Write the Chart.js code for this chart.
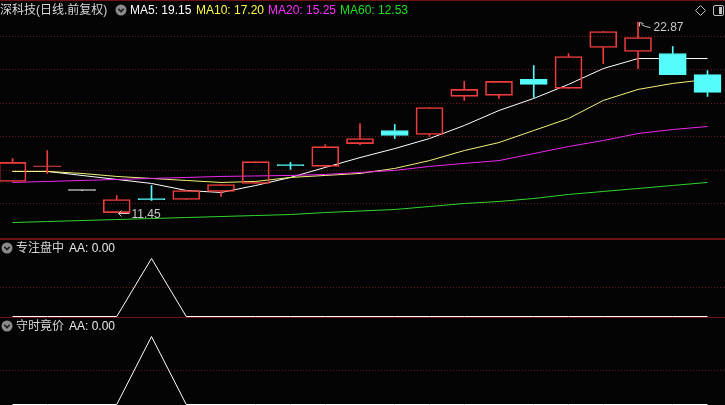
<!DOCTYPE html>
<html><head><meta charset="utf-8">
<script src="https://cdn.jsdelivr.net/npm/chart.js@4.4.0/dist/chart.umd.min.js"></script>
<style>
html,body{margin:0;padding:0;background:#040404;width:725px;height:405px;overflow:hidden;}
.pane{position:absolute;left:0;width:725px;}
canvas{display:block;}
.hdr{position:absolute;font:12px "Liberation Sans","Noto Sans CJK SC",sans-serif;white-space:nowrap;line-height:14px;}
.rule{position:absolute;left:0;width:725px;background:#6e1212;}
svg{position:absolute;}
</style></head><body>
<div class="pane" style="top:0;height:239px"><canvas id="main" width="725" height="239"></canvas></div>
<div class="pane" style="top:239px;height:78px"><canvas id="sub1" width="725" height="78"></canvas></div>
<div class="pane" style="top:317px;height:88px"><canvas id="sub2" width="725" height="88"></canvas></div>

<div class="rule" style="top:0;height:1px"></div>
<div class="rule" style="top:238px;height:2px"></div>
<div class="rule" style="top:317px;height:1px"></div>

<div id="headers"></div>

<script>
// ---------------- data ----------------
const dayIdx = [0,1,2,3,4,5,6,7,8,9,10,11,12,13,14,15,16,17,18,19,20];
const open  = [13.32,14.20,12.78,11.45,12.25,12.24,12.72,13.20,14.29,14.22,15.59,16.37,16.13,18.41,18.47,19.43,18.89,21.34,21.10,20.98,19.72];
const high  = [14.69,15.17,12.78,12.48,13.08,12.78,13.14,14.51,14.46,15.53,16.79,16.73,17.75,19.31,19.31,20.26,20.98,22.30,22.87,21.40,19.96];
const low   = [13.32,13.80,12.78,11.45,12.18,12.24,12.42,13.20,14.04,14.22,15.53,15.89,16.01,18.17,18.29,18.35,18.89,20.38,20.08,19.72,18.41];
const close = [14.46,14.22,12.78,12.24,12.23,12.78,13.14,14.51,14.27,15.41,15.89,16.07,17.75,18.83,19.31,19.13,20.80,22.30,21.94,19.72,18.65];

const ma5  = [13.92,13.92,13.68,13.44,13.20,12.78,12.66,13.08,13.56,14.16,14.75,15.29,15.89,16.67,17.57,18.29,19.13,20.08,20.68,20.68,20.68];
const ma10 = [13.92,13.92,13.80,13.62,13.50,13.38,13.26,13.32,13.56,13.68,13.80,14.10,14.57,15.17,15.65,16.37,17.09,18.17,18.83,19.19,19.43];
const ma20 = [13.26,13.32,13.38,13.44,13.50,13.56,13.62,13.65,13.68,13.74,13.86,13.98,14.22,14.40,14.57,14.99,15.41,15.77,16.19,16.43,16.61];
const ma60 = [10.86,10.92,10.98,11.04,11.10,11.16,11.22,11.28,11.34,11.46,11.55,11.64,11.82,12.00,12.12,12.30,12.54,12.72,12.90,13.08,13.26];

const aaFocus = [0,0,0,0,1,0,0,0,0,0,0,0,0,0,0,0,0,0,0,0,0];   // 专注盘中
const aaAuction = [0,0,0,0,1,0,0,0,0,0,0,0,0,0,0,0,0,0,0,0,0]; // 守时竟价

const priceGrid = [12,14,16,18,20,22];
const subGrid = [0.5];

const title = '深科技(日线.前复权)';
const maNames = ['MA5','MA10','MA20','MA60'];
const maLast = ['19.15','17.20','15.25','12.53'];
const subTitles = ['专注盘中','守时竟价'];
const subValues = ['0.00','0.00'];

// ---------------- styles ----------------
const RED = '#f03c3c', CYAN = '#55fcfc', WHITE = '#ffffff';
const MA_COLORS = ['#ffffff','#f2f27a','#ee28ee','#2ed62e'];
const MA_TEXT = ['#ffffff','#ffff40','#ff30ff','#20e020'];
const GRID = '#6a1818';

function candleColor(i){
  if (close[i] > open[i]) return RED;
  if (close[i] < open[i]) return CYAN;
  return WHITE;
}

// x layout: first candle centre at 12.5px, step 34.75px over a 725px wide area
const STEP = 34.75;
const X_MIN = -12.5/STEP, X_MAX = X_MIN + 725/STEP;

const xScale = {type:'linear', display:false, offset:false, min:X_MIN, max:X_MAX, grid:{offset:false}};
function yScale(min, max, grid){
  return {
    min, max, display:true,
    afterBuildTicks: ax => { ax.ticks = grid.map(v => ({value:v})); },
    ticks:{display:false},
    grid:{color:GRID, drawTicks:false, lineWidth:1},
    border:{display:false, dash:[1,2]}
  };
}

const extremes = {
  id:'extremes',
  afterDatasetsDraw(chart){
    const {ctx, scales:{x, y}} = chart;
    const hi = Math.max(...high), iHi = high.indexOf(hi);
    const lo = Math.min(...low), iLo = low.indexOf(lo);
    ctx.save();
    ctx.strokeStyle = '#c8c8c8'; ctx.fillStyle = '#c8c8c8'; ctx.lineWidth = 1;
    ctx.font = '12px "Liberation Sans", sans-serif';
    ctx.textBaseline = 'middle';
    let px = Math.round(x.getPixelForValue(iHi)) + 0.5, py = Math.round(y.getPixelForValue(hi)) + 0.5;
    ctx.beginPath();
    ctx.moveTo(px+1, py); ctx.lineTo(px+1, py+4);
    ctx.moveTo(px+1, py); ctx.lineTo(px+5, py+1);
    ctx.moveTo(px+3, py+2); ctx.lineTo(px+7, py+4); ctx.lineTo(px+12, py+5);
    ctx.stroke();
    ctx.fillText(hi.toFixed(2), px+15, py+5);
    px = Math.round(x.getPixelForValue(iLo)) + 0.5; py = Math.round(y.getPixelForValue(lo)) + 0.5;
    ctx.beginPath();
    ctx.moveTo(px+1, py); ctx.lineTo(px+12, py);
    ctx.moveTo(px+1, py); ctx.lineTo(px+4, py-3);
    ctx.moveTo(px+1, py); ctx.lineTo(px+4, py+3);
    ctx.stroke();
    ctx.fillText(lo.toFixed(2), px+14, py+1);
    ctx.restore();
  }
};

const bodyBars = {
  type:'bar', label:'body', order:0, grouped:false,
  data: dayIdx.map(i => ({x:i, y:[open[i], close[i]]})),
  barThickness:27, minBarLength:1, borderWidth:1, borderSkipped:false,
  borderColor: ctx => candleColor(ctx.dataIndex),
  backgroundColor: ctx => {
    const i = ctx.dataIndex;
    return (close[i] - open[i] >= 0.1) ? 'rgba(0,0,0,0)' : candleColor(i);
  }
};
const upperWick = {
  type:'bar', label:'uw', order:1, grouped:false,
  data: dayIdx.map(i => ({x:i, y:[Math.max(open[i], close[i]), high[i]]})),
  barThickness:1, borderWidth:0,
  backgroundColor: ctx => candleColor(ctx.dataIndex)
};
const lowerWick = {
  type:'bar', label:'lw', order:1, grouped:false,
  data: dayIdx.map(i => ({x:i, y:[low[i], Math.min(open[i], close[i])]})),
  barThickness:1, borderWidth:0,
  backgroundColor: ctx => candleColor(ctx.dataIndex)
};
function maLine(arr, color, label){
  return {type:'line', label, order:2, data: dayIdx.map(i => ({x:i, y:arr[i]})),
    borderColor:color, borderWidth:1, pointRadius:0, tension:0, fill:false};
}

const commonOpts = {
  responsive:false, animation:false, events:[],
  layout:{padding:0},
  plugins:{legend:{display:false}, tooltip:{enabled:false}}
};

// main: 16.7 px per yuan, 22 at y=36.5
const PPU = 16.7;
const yMax = 22 + 36.5/PPU, yMin = yMax - 239/PPU;
new Chart(document.getElementById('main'), {
  data:{datasets:[
    maLine(ma60, MA_COLORS[3], 'MA60'),
    maLine(ma20, MA_COLORS[2], 'MA20'),
    maLine(ma10, MA_COLORS[1], 'MA10'),
    maLine(ma5,  MA_COLORS[0], 'MA5'),
    upperWick, lowerWick, bodyBars
  ]},
  options:{...commonOpts, scales:{x:xScale, y:yScale(yMin, yMax, priceGrid)}},
  plugins:[extremes]
});

function subChart(id, arr, h, zeroPx, onePx){
  const ppu = zeroPx - onePx;
  const max = 1 + onePx/ppu;
  const min = -(h - zeroPx)/ppu;
  new Chart(document.getElementById(id), {
    type:'line',
    data:{datasets:[{label:'AA', data: dayIdx.map(i => ({x:i, y:arr[i]})),
      borderColor:'#ffffff', borderWidth:1, pointRadius:0, tension:0, clip:false}]},
    options:{...commonOpts, scales:{x:xScale, y:yScale(min, max, subGrid)}}
  });
}
subChart('sub1', aaFocus, 78, 77.5, 19.5);
subChart('sub2', aaAuction, 88, 87.5, 19.5);

// ---------------- headers ----------------
const H = document.getElementById('headers');
function txt(s, left, top, color){
  const d = document.createElement('div');
  d.className = 'hdr'; d.textContent = s;
  d.style.left = left + 'px'; d.style.top = top + 'px'; d.style.color = color;
  H.appendChild(d);
}
function chevron(cx, cy){
  const s = document.createElementNS('http://www.w3.org/2000/svg','svg');
  s.setAttribute('width', 12); s.setAttribute('height', 12);
  s.style.left = (cx-6)+'px'; s.style.top = (cy-6)+'px';
  s.innerHTML = '<circle cx="6" cy="6" r="5.5" fill="#8a8a8a"/><polyline points="3.3,4.8 6,7.5 8.7,4.8" fill="none" stroke="#1a1a1a" stroke-width="1.6"/>';
  H.appendChild(s);
}
txt(title, 0, 3, '#d8d8d8');
chevron(121, 10);
const maLeft = [130, 196, 268, 340];
maNames.forEach((n, k) => txt(n + ': ' + maLast[k], maLeft[k], 3, MA_TEXT[k]));

chevron(7, 248);
txt(subTitles[0], 16, 241, '#d8d8d8');
txt('AA: ' + subValues[0], 69, 241, '#e8e8e8');
chevron(7, 326);
txt(subTitles[1], 16, 319, '#d8d8d8');
txt('AA: ' + subValues[1], 69, 319, '#e8e8e8');

// top-right icons
const ic = document.createElementNS('http://www.w3.org/2000/svg','svg');
ic.setAttribute('width', 30); ic.setAttribute('height', 14);
ic.style.left = '694px'; ic.style.top = '4px';
ic.innerHTML = '<polygon points="6.5,1.5 11.5,6.5 6.5,11.5 1.5,6.5" fill="none" stroke="#c0c0c0" stroke-width="1"/>' +
  '<rect x="19.5" y="1.5" width="10" height="10" rx="1.5" fill="none" stroke="#c0c0c0" stroke-width="1"/>' +
  '<rect x="25" y="3" width="3" height="7" fill="#c0c0c0"/>';
H.appendChild(ic);
</script>
</body></html>
